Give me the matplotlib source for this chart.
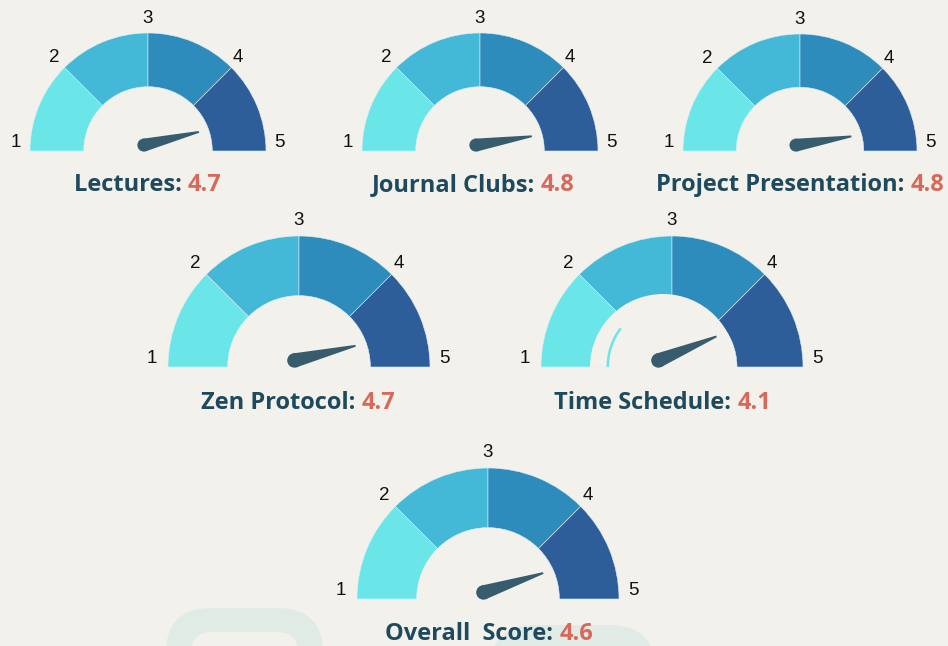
import numpy as np
import matplotlib
matplotlib.use("Agg")
import matplotlib.pyplot as plt
from matplotlib.patches import Wedge, Polygon, Circle, FancyBboxPatch

# ---------------- data ----------------
names = ["Lectures", "Journal Clubs", "Project Presentation",
         "Zen Protocol", "Time Schedule", "Overall  Score"]
scores = [4.7, 4.8, 4.8, 4.7, 4.1, 4.6]
needle_values = [4.7, 4.8, 4.8, 4.7, 4.5, 4.6]   # needle positions as drawn
scale_ticks = [1, 2, 3, 4, 5]
segment_colors = ["#6ae6e8", "#43b8d7", "#2d8cbb", "#2e5e99"]

# ---------------- layout (pixels, image coords) ----------------
W, H = 948, 646
centers = [(148, 151), (480, 151), (800, 151), (299, 367), (672, 367), (488, 599)]
radii = [118, 118, 117, 131, 131, 131]
hole_shift = [0, 0, 0, 0, -9, 0]
title_pos = [(148, 185), (473, 185), (800, 185), (298, 403), (663, 403), (489, 634)]

BG = "#f2f1ec"
NAME_C = "#1f4a5e"
VAL_C = "#d8695a"
NEEDLE_C = "#365c6e"
TITLE_FONT = "Open Sans"

fig = plt.figure(figsize=(W / 100, H / 100), dpi=100, facecolor=BG)
ax = fig.add_axes([0, 0, 1, 1])
ax.set_xlim(0, W)
ax.set_ylim(0, H)
ax.set_aspect("equal")
ax.axis("off")
ax.set_facecolor(BG)


def Y(y):
    return H - y


def ang(v):
    return 180.0 - (v - scale_ticks[0]) / (scale_ticks[-1] - scale_ticks[0]) * 180.0


# faint watermark shapes at bottom
for (x0, y0, x1, y1, rad, th) in [(166, 608, 323, 720, 45, 24), (490, 625, 655, 740, 45, 24)]:
    ax.add_patch(FancyBboxPatch((x0 + rad, Y(y1) + rad), (x1 - x0) - 2 * rad, (y1 - y0) - 2 * rad,
                                boxstyle=f"round,pad={rad}", fc="#e1ebe6", ec="none", zorder=0))
    r2 = rad - th
    ax.add_patch(FancyBboxPatch((x0 + th + r2 + 1, Y(y1) + th + r2), (x1 - x0) - 2 * th - 2 * r2 - 2,
                                (y1 - y0) - 2 * th - 2 * r2,
                                boxstyle=f"round,pad={max(r2,1)}", fc=BG, ec="none", zorder=0.5))

renderer = fig.canvas.get_renderer()

# title font size fitted so the longest title spans ~290 px
probe = ax.text(0, 0, "Project Presentation: 4.8", fontsize=10, family=TITLE_FONT, weight="bold")
title_fs = 10 * 290.0 / probe.get_window_extent(renderer).width
probe.remove()

for i, name in enumerate(names):
    cx, cy = centers[i]
    R = radii[i]
    r_in = 0.545 * R
    hs = hole_shift[i]
    if hs:
        r_in = 65
    c = (cx, Y(cy))
    # segments
    for k in range(len(scale_ticks) - 1):
        t1 = ang(scale_ticks[k + 1])
        t2 = ang(scale_ticks[k])
        ax.add_patch(Wedge(c, R, t1, t2, width=R - r_in, fc=segment_colors[k],
                           ec="#dceef3", lw=0.4, zorder=2))
    if hs:
        # rendering quirk in the reference: offset hole and thin cyan arc
        ax.add_patch(Wedge((cx + hs, Y(cy)), 73, 0, 180, fc=BG, ec="none", zorder=2.5))
        ax.add_patch(Wedge(c, 65.5, 143, 180, width=2.5, fc=segment_colors[0], ec="none", zorder=2.6))
    # tick labels
    for v in scale_ticks:
        a = np.deg2rad(ang(v))
        rr = 1.12 * R
        tx = cx + rr * np.cos(a)
        ty = cy - rr * np.sin(a)
        if v in (1, 5):
            ty -= 8.5
            tx += -1 if v == 5 else 0
        if v == 4:
            tx -= 4
        ax.text(tx, Y(ty), str(v), ha="center", va="center", fontsize=13.5,
                family="Liberation Sans", color="#111111", zorder=3)
    # needle
    px = cx + hs - 0.035 * R
    py = cy - 0.05 * R
    a = np.deg2rad(ang(needle_values[i]))
    L = 0.48 * R
    hr = 0.055 * R
    d = np.array([np.cos(a), np.sin(a)])
    p = np.array([-np.sin(a), np.cos(a)])
    P = np.array([px, Y(py)])
    T = P + L * d
    poly = [P + hr * p, T + 0.9 * p, T - 0.9 * p, P - hr * p]
    ax.add_patch(Polygon(poly, closed=True, fc=NEEDLE_C, ec="none", zorder=4))
    ax.add_patch(Circle(P, hr, fc=NEEDLE_C, ec="none", zorder=4))
    # title: name + coloured score
    tx, ty = title_pos[i]
    s1 = ax.text(0, Y(ty), f"{name}: ", ha="left", va="center", fontsize=title_fs,
                 family=TITLE_FONT, weight="bold", color=NAME_C, zorder=5)
    s2 = ax.text(0, Y(ty), f"{scores[i]}", ha="left", va="center", fontsize=title_fs,
                 family=TITLE_FONT, weight="bold", color=VAL_C, zorder=5)
    w1 = s1.get_window_extent(renderer).width
    w2 = s2.get_window_extent(renderer).width
    x0 = tx - (w1 + w2) / 2
    s1.set_x(x0)
    s2.set_x(x0 + w1)

fig.savefig("out.png", dpi=100, facecolor=BG)
